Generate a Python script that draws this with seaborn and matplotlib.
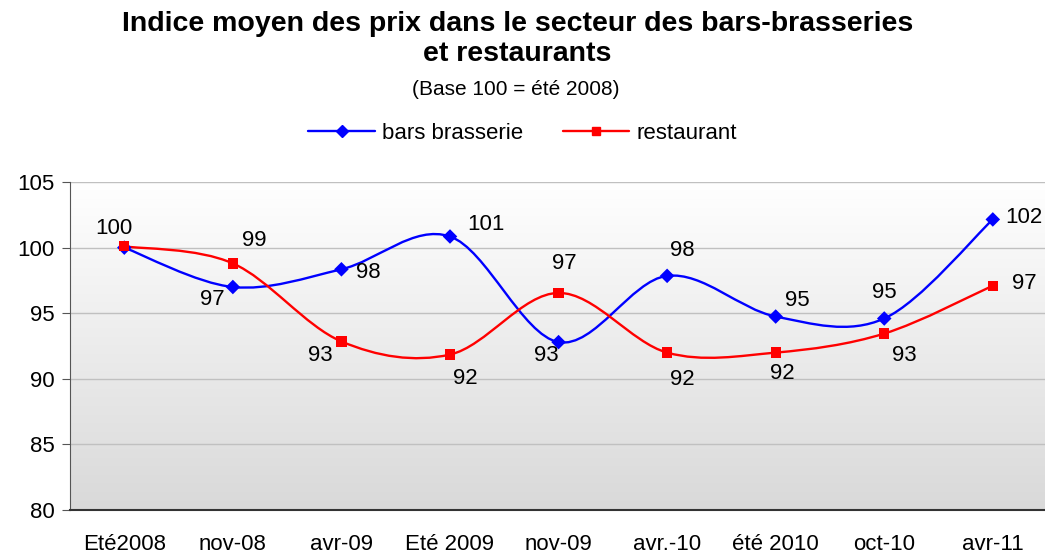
import numpy as np
import pandas as pd
import seaborn as sns
import matplotlib.pyplot as plt
from matplotlib.path import Path
from matplotlib.patches import PathPatch
from matplotlib.lines import Line2D
from matplotlib.colors import LinearSegmentedColormap

sns.set_style('white')
plt.rcParams['font.family'] = ['Liberation Sans', 'DejaVu Sans']
plt.rcParams['text.color'] = 'black'
plt.rcParams['xtick.color'] = 'black'
plt.rcParams['ytick.color'] = 'black'

periods = ['Eté2008', 'nov-08', 'avr-09', 'Eté 2009', 'nov-09',
           'avr.-10', 'été 2010', 'oct-10', 'avr-11']
bars = [100.0, 97.0, 98.35, 100.85, 92.8, 97.85, 94.75, 94.6, 102.15]
restaurant = [100.1, 98.8, 92.85, 91.85, 96.55, 92.0, 92.0, 93.45, 97.1]

# label offsets in pixels (dx, dy), None = hidden
bars_off = [(-10, 19), (-21, -12), (27, -3), (36, 12), (-12, -13),
            (15, 25), (22, 16), (0, 26), (31, 2)]
rest_off = [None, (21, 23), (-21, -14), (15, -24), (6, 29),
            (15, -27), (7, -21), (20, -22), (32, 2)]


def smooth_path(x, y):
    # excel-like smoothed line: cubic bezier through every point
    pts = np.column_stack([x, y]).astype(float)
    n = len(pts)
    verts = [pts[0]]
    codes = [Path.MOVETO]
    for i in range(n - 1):
        p0 = pts[max(i - 1, 0)]
        p1 = pts[i]
        p2 = pts[i + 1]
        p3 = pts[min(i + 2, n - 1)]
        c1 = p1 + (p2 - p0) / 6
        c2 = p2 - (p3 - p1) / 6
        verts += [c1, c2, p2]
        codes += [Path.CURVE4] * 3
    return Path(verts, codes)


df = pd.DataFrame({'x': list(range(len(periods))) * 2,
                   'val': bars + restaurant,
                   'serie': ['bars brasserie'] * len(bars) + ['restaurant'] * len(restaurant)})

fig = plt.figure(figsize=(10.45, 5.55), dpi=100)
ax = fig.add_axes([0.067, 0.081, 0.935, 0.591])

# gradient background, white at the top
grad = np.linspace(0, 1, 256).reshape(-1, 1)
ax.imshow(grad, extent=[0, 1, 0, 1], transform=ax.transAxes, aspect='auto',
          cmap=LinearSegmentedColormap.from_list('g', ['#ffffff', '#d9d9d9']), zorder=0)

for v in [85, 90, 95, 100, 105]:
    ax.axhline(v, color='#c0c0c0', lw=1, zorder=1)

x = np.arange(len(periods))
ax.add_patch(PathPatch(smooth_path(x, bars), facecolor='none', edgecolor='#0000ff', lw=1.7, zorder=3))
ax.add_patch(PathPatch(smooth_path(x, restaurant), facecolor='none', edgecolor='#ff0000', lw=1.7, zorder=3))

sns.scatterplot(data=df, x='x', y='val', hue='serie', style='serie',
                palette={'bars brasserie': '#0000ff', 'restaurant': '#ff0000'},
                markers={'bars brasserie': 'D', 'restaurant': 's'},
                s=55, edgecolor='none', legend=False, ax=ax, zorder=4)

for vals, offs in [(bars, bars_off), (restaurant, rest_off)]:
    for i, v in enumerate(vals):
        if offs[i] is None:
            continue
        dx, dy = offs[i]
        ax.annotate(f'{int(v + 0.5)}', (i, v), xytext=(dx, dy), textcoords='offset pixels',
                    ha='center', va='center', fontsize=16, color='black', zorder=5)

ax.set_xlim(-0.5, len(periods) - 0.5)
ax.set_ylim(80, 105)
ax.set_yticks([80, 85, 90, 95, 100, 105])
ax.set_xticks(x)
ax.set_xticklabels(periods)
ax.set_xticks(np.arange(-0.5, len(periods), 1), minor=True)
ax.tick_params(axis='x', which='major', length=0, pad=17, labelsize=16, labelcolor='black')
ax.tick_params(axis='x', which='minor', length=6, color='#555555', direction='out')
ax.tick_params(axis='y', length=6, color='#555555', direction='out', labelsize=16, pad=5,
               left=True, labelcolor='black')
ax.set_xlabel('')
ax.set_ylabel('')

for s in ['top', 'right']:
    ax.spines[s].set_visible(False)
ax.spines['left'].set_color('#555555')
ax.spines['bottom'].set_color('#333333')
ax.spines['bottom'].set_linewidth(1.5)

fig.text(0.495, 0.93, 'Indice moyen des prix dans le secteur des bars-brasseries\net restaurants',
         ha='center', va='center', fontsize=20.5, fontweight='bold', linespacing=1.2, color='black')
fig.text(0.494, 0.838, '(Base 100 = été 2008)', ha='center', va='center', fontsize=15, color='black')

handles = [Line2D([], [], color='#0000ff', lw=1.7, marker='D', markersize=6),
           Line2D([], [], color='#ff0000', lw=1.7, marker='s', markersize=6)]
fig.legend(handles, ['bars brasserie', 'restaurant'], loc='center', bbox_to_anchor=(0.5, 0.76),
           ncol=2, frameon=False, fontsize=16, handlelength=3.0, columnspacing=1.8,
           handletextpad=0.3, labelcolor='black')

fig.savefig('out.png', dpi=100)
